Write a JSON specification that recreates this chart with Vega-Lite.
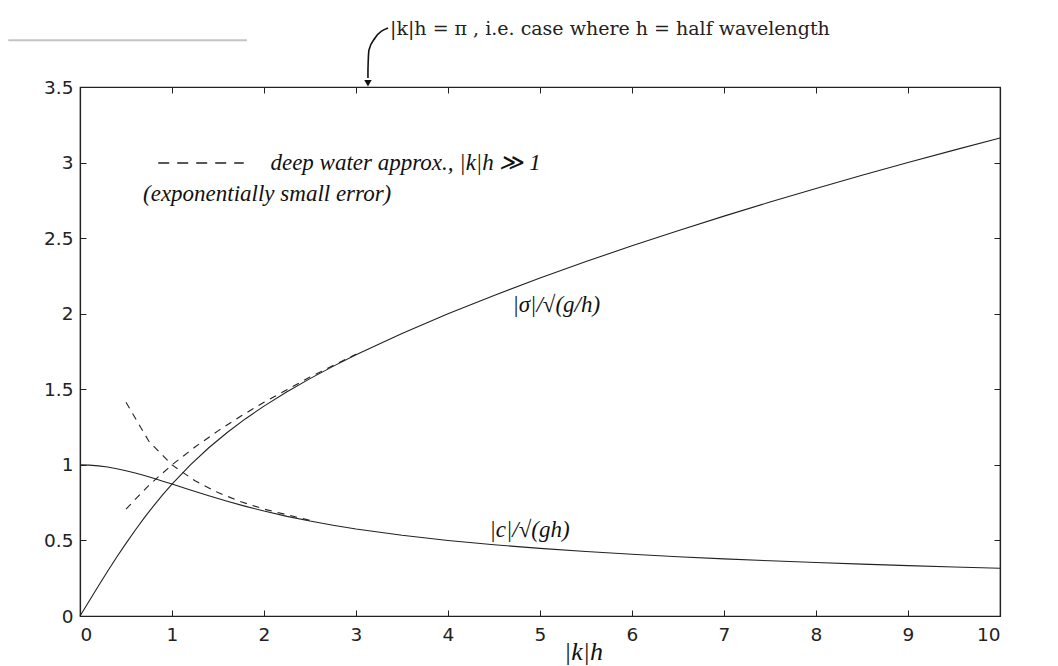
{
  "$schema": "https://vega.github.io/schema/vega-lite/v6.json",
  "width": 920,
  "height": 529,
  "autosize": {"type": "none"},
  "padding": {"left": 80, "top": 87, "right": 58, "bottom": 50},
  "background": "white",
  "config": {
    "view": {"stroke": "#222", "strokeWidth": 1.2},
    "axis": {
      "domainColor": "#222",
      "domainWidth": 1.2,
      "tickColor": "#222",
      "labelColor": "#222",
      "labelFont": "DejaVu Sans",
      "labelFontSize": 18.5,
      "grid": false
    }
  },
  "datasets": {
    "solid": [
      {"kh": 0, "val": 0, "series": "sigma"},
      {"kh": 0.1, "val": 0.0998, "series": "sigma"},
      {"kh": 0.2, "val": 0.1987, "series": "sigma"},
      {"kh": 0.3, "val": 0.2956, "series": "sigma"},
      {"kh": 0.4, "val": 0.3899, "series": "sigma"},
      {"kh": 0.5, "val": 0.4807, "series": "sigma"},
      {"kh": 0.6, "val": 0.5677, "series": "sigma"},
      {"kh": 0.7, "val": 0.6504, "series": "sigma"},
      {"kh": 0.8, "val": 0.7289, "series": "sigma"},
      {"kh": 0.9, "val": 0.8029, "series": "sigma"},
      {"kh": 1.0, "val": 0.8727, "series": "sigma"},
      {"kh": 1.2, "val": 1.0002, "series": "sigma"},
      {"kh": 1.4, "val": 1.1133, "series": "sigma"},
      {"kh": 1.6, "val": 1.2144, "series": "sigma"},
      {"kh": 1.8, "val": 1.3055, "series": "sigma"},
      {"kh": 2.0, "val": 1.3886, "series": "sigma"},
      {"kh": 2.25, "val": 1.4834, "series": "sigma"},
      {"kh": 2.5, "val": 1.5705, "series": "sigma"},
      {"kh": 2.75, "val": 1.6516, "series": "sigma"},
      {"kh": 3.0, "val": 1.7278, "series": "sigma"},
      {"kh": 3.5, "val": 1.8691, "series": "sigma"},
      {"kh": 4.0, "val": 1.9993, "series": "sigma"},
      {"kh": 4.5, "val": 2.1211, "series": "sigma"},
      {"kh": 5.0, "val": 2.236, "series": "sigma"},
      {"kh": 5.5, "val": 2.3452, "series": "sigma"},
      {"kh": 6.0, "val": 2.4495, "series": "sigma"},
      {"kh": 6.5, "val": 2.5495, "series": "sigma"},
      {"kh": 7.0, "val": 2.6458, "series": "sigma"},
      {"kh": 7.5, "val": 2.7386, "series": "sigma"},
      {"kh": 8.0, "val": 2.8284, "series": "sigma"},
      {"kh": 8.5, "val": 2.9155, "series": "sigma"},
      {"kh": 9.0, "val": 3.0, "series": "sigma"},
      {"kh": 9.5, "val": 3.0822, "series": "sigma"},
      {"kh": 10.0, "val": 3.1623, "series": "sigma"},
      {"kh": 0, "val": 1.0, "series": "c"},
      {"kh": 0.1, "val": 0.9983, "series": "c"},
      {"kh": 0.2, "val": 0.9935, "series": "c"},
      {"kh": 0.3, "val": 0.9854, "series": "c"},
      {"kh": 0.4, "val": 0.9746, "series": "c"},
      {"kh": 0.5, "val": 0.9614, "series": "c"},
      {"kh": 0.6, "val": 0.9461, "series": "c"},
      {"kh": 0.7, "val": 0.9292, "series": "c"},
      {"kh": 0.8, "val": 0.9111, "series": "c"},
      {"kh": 0.9, "val": 0.8921, "series": "c"},
      {"kh": 1.0, "val": 0.8727, "series": "c"},
      {"kh": 1.2, "val": 0.8335, "series": "c"},
      {"kh": 1.4, "val": 0.7952, "series": "c"},
      {"kh": 1.6, "val": 0.759, "series": "c"},
      {"kh": 1.8, "val": 0.7253, "series": "c"},
      {"kh": 2.0, "val": 0.6943, "series": "c"},
      {"kh": 2.25, "val": 0.6593, "series": "c"},
      {"kh": 2.5, "val": 0.6282, "series": "c"},
      {"kh": 2.75, "val": 0.6006, "series": "c"},
      {"kh": 3.0, "val": 0.5759, "series": "c"},
      {"kh": 3.5, "val": 0.534, "series": "c"},
      {"kh": 4.0, "val": 0.4998, "series": "c"},
      {"kh": 4.5, "val": 0.4713, "series": "c"},
      {"kh": 5.0, "val": 0.4472, "series": "c"},
      {"kh": 5.5, "val": 0.4264, "series": "c"},
      {"kh": 6.0, "val": 0.4082, "series": "c"},
      {"kh": 6.5, "val": 0.3922, "series": "c"},
      {"kh": 7.0, "val": 0.378, "series": "c"},
      {"kh": 7.5, "val": 0.3651, "series": "c"},
      {"kh": 8.0, "val": 0.3536, "series": "c"},
      {"kh": 8.5, "val": 0.343, "series": "c"},
      {"kh": 9.0, "val": 0.3333, "series": "c"},
      {"kh": 9.5, "val": 0.3244, "series": "c"},
      {"kh": 10.0, "val": 0.3162, "series": "c"}
    ],
    "dashed": [
      {"kh": 0.5, "val": 0.7071, "series": "deepSigma"},
      {"kh": 0.75, "val": 0.866, "series": "deepSigma"},
      {"kh": 1.0, "val": 1.0, "series": "deepSigma"},
      {"kh": 1.25, "val": 1.118, "series": "deepSigma"},
      {"kh": 1.5, "val": 1.2247, "series": "deepSigma"},
      {"kh": 1.75, "val": 1.3229, "series": "deepSigma"},
      {"kh": 2.0, "val": 1.4142, "series": "deepSigma"},
      {"kh": 2.5, "val": 1.5811, "series": "deepSigma"},
      {"kh": 3.0, "val": 1.7321, "series": "deepSigma"},
      {"kh": 0.5, "val": 1.4142, "series": "deepC"},
      {"kh": 0.75, "val": 1.1547, "series": "deepC"},
      {"kh": 1.0, "val": 1.0, "series": "deepC"},
      {"kh": 1.25, "val": 0.8944, "series": "deepC"},
      {"kh": 1.5, "val": 0.8165, "series": "deepC"},
      {"kh": 1.75, "val": 0.7559, "series": "deepC"},
      {"kh": 2.0, "val": 0.7071, "series": "deepC"},
      {"kh": 2.5, "val": 0.6325, "series": "deepC"}
    ],
    "legendDash": [
      {"kh": 0.85, "val": 2.997},
      {"kh": 1.78, "val": 2.997}
    ],
    "arrow": [
      {"kh": 3.348, "val": 3.89},
      {"kh": 3.207, "val": 3.824},
      {"kh": 3.141, "val": 3.745},
      {"kh": 3.13, "val": 3.613},
      {"kh": 3.13, "val": 3.56}
    ],
    "arrowTip": [
      {"kh": 3.13, "val": 3.525}
    ],
    "scanLine": [
      {"kh": -0.78, "val": 3.81},
      {"kh": 1.815, "val": 3.81}
    ],
    "printed": [
      {"kh": 3.37, "val": 3.884, "label": "|k|h = π , i.e. case where h = half wavelength"}
    ],
    "hand": [
      {"kh": 2.07, "val": 3.0, "label": "deep water approx., |k|h ≫ 1"},
      {"kh": 0.685, "val": 2.79, "label": "(exponentially small error)"},
      {"kh": 4.7, "val": 2.06, "label": "|σ|/√(g/h)"},
      {"kh": 4.45, "val": 0.57, "label": "|c|/√(gh)"}
    ]
  },
  "layer": [
    {
      "data": {"name": "solid"},
      "mark": {"type": "line", "stroke": "#222", "strokeWidth": 1.1},
      "encoding": {
        "x": {
          "field": "kh", "type": "quantitative",
          "scale": {"domain": [0, 10], "nice": false},
          "axis": {
            "orient": "bottom",
            "values": [0, 1, 2, 3, 4, 5, 6, 7, 8, 9, 10],
            "tickSize": -6,
            "labelPadding": 15,
            "title": "|k|h",
            "titleFont": "Liberation Serif",
            "titleFontStyle": "italic",
            "titleFontWeight": "normal",
            "titleFontSize": 26,
            "titleColor": "#111",
            "titleX": 503,
            "titleY": 35,
            "titleAlign": "center",
            "titleBaseline": "middle"
          }
        },
        "y": {
          "field": "val", "type": "quantitative",
          "scale": {"domain": [0, 3.5], "nice": false},
          "axis": {
            "orient": "left",
            "values": [0, 0.5, 1, 1.5, 2, 2.5, 3, 3.5],
            "format": "~g",
            "tickSize": -6,
            "labelPadding": 13,
            "title": null
          }
        },
        "detail": {"field": "series"}
      }
    },
    {
      "data": {"name": "solid"},
      "mark": {"type": "line", "opacity": 0},
      "encoding": {
        "x": {
          "field": "kh", "type": "quantitative",
          "scale": {"domain": [0, 10], "nice": false},
          "axis": {
            "orient": "top",
            "values": [0, 1, 2, 3, 4, 5, 6, 7, 8, 9, 10],
            "tickSize": -6,
            "labels": false,
            "title": null
          }
        },
        "y": {
          "field": "val", "type": "quantitative",
          "scale": {"domain": [0, 3.5], "nice": false},
          "axis": {
            "orient": "right",
            "values": [0, 0.5, 1, 1.5, 2, 2.5, 3, 3.5],
            "tickSize": -6,
            "labels": false,
            "title": null
          }
        },
        "detail": {"field": "series"}
      }
    },
    {
      "data": {"name": "dashed"},
      "mark": {"type": "line", "stroke": "#222", "strokeWidth": 1.1, "strokeDash": [7, 6]},
      "encoding": {
        "x": {"field": "kh", "type": "quantitative", "scale": {"domain": [0, 10], "nice": false}, "axis": null},
        "y": {"field": "val", "type": "quantitative", "scale": {"domain": [0, 3.5], "nice": false}, "axis": null},
        "detail": {"field": "series"}
      }
    },
    {
      "data": {"name": "legendDash"},
      "mark": {"type": "line", "stroke": "#222", "strokeWidth": 1.4, "strokeDash": [11, 8]},
      "encoding": {
        "x": {"field": "kh", "type": "quantitative", "scale": {"domain": [0, 10], "nice": false}, "axis": null},
        "y": {"field": "val", "type": "quantitative", "scale": {"domain": [0, 3.5], "nice": false}, "axis": null}
      }
    },
    {
      "data": {"name": "scanLine"},
      "mark": {"type": "line", "stroke": "#c4c4c4", "strokeWidth": 2},
      "encoding": {
        "x": {"field": "kh", "type": "quantitative", "scale": {"domain": [0, 10], "nice": false}, "axis": null},
        "y": {"field": "val", "type": "quantitative", "scale": {"domain": [0, 3.5], "nice": false}, "axis": null}
      }
    },
    {
      "data": {"name": "arrow"},
      "mark": {"type": "line", "stroke": "#111", "strokeWidth": 1.6, "interpolate": "monotone"},
      "encoding": {
        "x": {"field": "kh", "type": "quantitative", "scale": {"domain": [0, 10], "nice": false}, "axis": null},
        "y": {"field": "val", "type": "quantitative", "scale": {"domain": [0, 3.5], "nice": false}, "axis": null},
        "order": {"field": "val", "sort": "descending"}
      }
    },
    {
      "data": {"name": "arrowTip"},
      "mark": {"type": "point", "shape": "triangle-down", "filled": true, "color": "#111", "size": 55, "opacity": 1},
      "encoding": {
        "x": {"field": "kh", "type": "quantitative", "scale": {"domain": [0, 10], "nice": false}, "axis": null},
        "y": {"field": "val", "type": "quantitative", "scale": {"domain": [0, 3.5], "nice": false}, "axis": null}
      }
    },
    {
      "data": {"name": "printed"},
      "mark": {"type": "text", "align": "left", "baseline": "middle", "font": "DejaVu Serif", "fontSize": 19, "color": "#222"},
      "encoding": {
        "x": {"field": "kh", "type": "quantitative", "scale": {"domain": [0, 10], "nice": false}, "axis": null},
        "y": {"field": "val", "type": "quantitative", "scale": {"domain": [0, 3.5], "nice": false}, "axis": null},
        "text": {"field": "label"}
      }
    },
    {
      "data": {"name": "hand"},
      "mark": {"type": "text", "align": "left", "baseline": "middle", "font": "Liberation Serif", "fontStyle": "italic", "fontSize": 23, "color": "#111"},
      "encoding": {
        "x": {"field": "kh", "type": "quantitative", "scale": {"domain": [0, 10], "nice": false}, "axis": null},
        "y": {"field": "val", "type": "quantitative", "scale": {"domain": [0, 3.5], "nice": false}, "axis": null},
        "text": {"field": "label"}
      }
    }
  ],
  "resolve": {"axis": {"x": "independent", "y": "independent"}}
}
